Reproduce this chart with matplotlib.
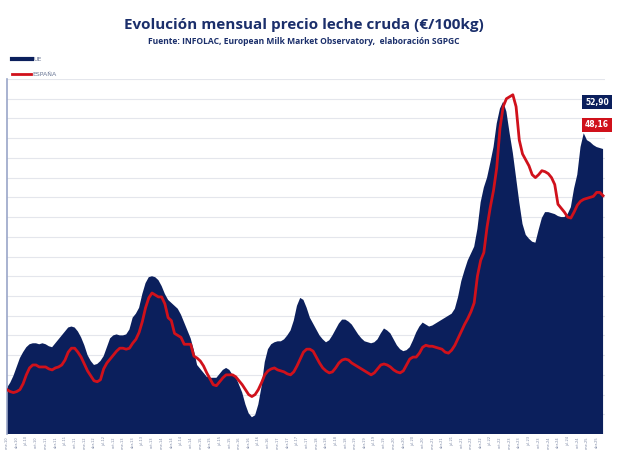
import numpy as np
import matplotlib
matplotlib.use("Agg")
import matplotlib.pyplot as plt

# monthly series, ene-2010 .. jun-2025 (EUR/100kg)
ue = [
    28.7, 29.2, 29.9, 30.8, 31.7, 32.3, 32.8, 33.1, 33.2, 33.2, 33.1, 33.2,
    33.1, 32.9, 32.8, 33.2, 33.6, 34.0, 34.4, 34.8, 34.9, 34.8, 34.4, 33.8,
    33.0, 32.0, 31.4, 31.0, 31.1, 31.4, 31.9, 32.8, 33.7, 34.0, 34.1, 34.0,
    34.0, 34.1, 34.6, 35.8, 36.2, 36.8, 38.2, 39.3, 39.9, 40.0, 39.9, 39.6,
    39.0, 38.2, 37.6, 37.3, 37.0, 36.7, 36.1, 35.3, 34.5, 33.7, 32.5, 31.0,
    30.6, 30.2, 29.8, 29.7, 29.7, 29.7, 30.1, 30.5, 30.7, 30.5, 30.0, 29.8,
    29.0, 28.2, 27.0, 26.1, 25.7, 25.9, 27.0, 28.8, 31.3, 32.6, 33.1, 33.3,
    33.4, 33.4, 33.6, 34.0, 34.5, 35.5, 37.0, 37.8, 37.6, 36.8, 35.8, 35.2,
    34.6, 34.0, 33.6, 33.3, 33.5, 34.0, 34.6, 35.2, 35.6, 35.6, 35.4, 35.1,
    34.6, 34.1, 33.7, 33.4, 33.3, 33.2, 33.3, 33.6, 34.2, 34.7, 34.5, 34.2,
    33.6, 33.0, 32.6, 32.4, 32.5, 32.8, 33.5, 34.3, 34.9, 35.3, 35.1, 34.9,
    35.0, 35.2, 35.4, 35.6, 35.8, 36.0, 36.2, 36.7, 37.9, 39.5, 40.6, 41.6,
    42.3, 43.0, 44.8, 47.5, 49.0, 50.0, 51.5, 53.1, 55.5, 57.0, 57.7, 56.7,
    54.5, 52.5, 50.0, 47.5, 45.3, 44.2, 43.8, 43.5, 43.4, 44.7, 45.9, 46.5,
    46.5, 46.4, 46.3, 46.1, 46.0, 46.0, 46.3, 47.0, 48.9, 50.3, 53.1, 54.5,
    53.8, 53.6, 53.3, 53.1, 53.0, 52.9,
]
espana = [
    28.5, 28.3, 28.2, 28.3, 28.5, 29.1, 30.0, 30.7, 31.0, 31.0, 30.8, 30.8,
    30.8, 30.6, 30.5, 30.7, 30.8, 31.0, 31.5, 32.3, 32.7, 32.7, 32.3, 31.8,
    31.1, 30.4, 29.9, 29.4, 29.3, 29.5, 30.6, 31.2, 31.6, 32.0, 32.4, 32.7,
    32.7, 32.6, 32.7, 33.2, 33.6, 34.3, 35.4, 36.8, 37.8, 38.3, 38.1, 37.9,
    37.9, 37.2, 35.8, 35.5, 34.2, 34.0, 33.8, 33.1, 33.1, 33.1, 31.9, 31.7,
    31.4, 30.9, 30.2, 29.6, 29.0, 28.9, 29.3, 29.7, 30.0, 30.0, 30.0, 29.8,
    29.4, 29.0, 28.5, 28.0, 27.8, 28.0, 28.5, 29.2, 30.0, 30.4, 30.6, 30.7,
    30.5, 30.4, 30.3, 30.1, 30.0, 30.3, 30.9, 31.6, 32.3, 32.6, 32.6, 32.4,
    31.8, 31.2, 30.7, 30.4, 30.2, 30.3, 30.7, 31.2, 31.5, 31.6, 31.5, 31.2,
    31.0, 30.8, 30.6, 30.4, 30.2, 30.0, 30.2, 30.6, 31.0, 31.1, 31.0, 30.8,
    30.5, 30.3, 30.2, 30.4, 31.0, 31.6, 31.8, 31.8, 32.2, 32.8, 33.0, 32.9,
    32.9, 32.8, 32.7, 32.6, 32.3, 32.2, 32.5, 33.0, 33.7, 34.4, 35.1, 35.7,
    36.4, 37.3, 40.0, 41.6, 42.4, 45.0, 47.0, 48.7, 51.0, 55.0, 57.2, 58.0,
    58.2, 58.4, 57.2, 53.8, 52.4, 51.8, 51.2, 50.3, 50.0, 50.3, 50.7, 50.6,
    50.4, 50.0, 49.3, 47.3, 46.9, 46.5, 46.0, 45.9, 46.5, 47.2, 47.6, 47.8,
    47.9, 48.0, 48.1, 48.5, 48.5, 48.16,
]
meses = ["ene", "feb", "mar", "abr", "may", "jun",
         "jul", "ago", "sep", "oct", "nov", "dic"]
first_year = 2010
last_ue = "52,90"
last_es = "48,16"

navy = "#0b1f5c"
red = "#d0111b"

n = len(ue)
x = np.arange(n)
labels = [f"{meses[i % 12]}-{(first_year + i // 12) % 100:02d}" for i in range(n)]

fig = plt.figure(figsize=(6.2, 4.5), dpi=100)
ax = fig.add_axes([7 / 620, 1 - 434 / 450, 598 / 620, 355 / 450])

ax.fill_between(x, 0, ue, color=navy, linewidth=0, zorder=2)
ax.plot(x, espana, color=red, linewidth=2, zorder=3)

ax.set_xlim(0, n - 1 + 0.6)
ax.set_ylim(24, 60)
ax.set_yticks(np.arange(24, 61, 2))
ax.yaxis.grid(True, color="#e4e6ec", linewidth=0.8, zorder=0)
ax.tick_params(axis="y", length=0, labelleft=False)

ticks = x[::3]
ax.set_xticks(ticks)
ax.set_xticklabels([labels[i] for i in ticks], rotation=90, fontsize=2.6,
                   color="#7f8aa6")
ax.tick_params(axis="x", length=0, pad=1.5)

for s in ["top", "right", "bottom"]:
    ax.spines[s].set_visible(False)
ax.spines["left"].set_color("#9aa6c8")
ax.spines["left"].set_linewidth(1.2)

# end-of-series value boxes
ax.annotate(last_ue, xy=(1.0, (ue[-1] - 24) / 36), xycoords="axes fraction",
            xytext=(597 / 620, 1 - 102 / 450), textcoords="figure fraction",
            ha="center", va="center", fontsize=5.5, fontweight="bold",
            color="white", bbox=dict(boxstyle="square,pad=0.35", fc=navy, ec="none"))
ax.annotate(last_es, xy=(1.0, (espana[-1] - 24) / 36), xycoords="axes fraction",
            xytext=(597 / 620, 1 - 125 / 450), textcoords="figure fraction",
            ha="center", va="center", fontsize=5.5, fontweight="bold",
            color="white", bbox=dict(boxstyle="square,pad=0.35", fc=red, ec="none"))

# legend drawn by hand at the top-left
fig.add_artist(plt.Line2D([12 / 620, 32 / 620], [1 - 59 / 450] * 2,
                          color=navy, linewidth=3))
fig.text(33 / 620, 1 - 59 / 450, "UE", fontsize=4.5, color="#6b7896", va="center")
fig.add_artist(plt.Line2D([12 / 620, 31 / 620], [1 - 74 / 450] * 2,
                          color=red, linewidth=2))
fig.text(32 / 620, 1 - 74 / 450, "ESPAÑA", fontsize=4.5, color="#6b7896", va="center")

fig.text(0.49, 1 - 25 / 450, "Evolución mensual precio leche cruda (€/100kg)",
         ha="center", va="center", fontsize=11, fontweight="bold",
         color="#1b2f6b", family="Open Sans")
fig.text(0.49, 1 - 42 / 450,
         "Fuente: INFOLAC, European Milk Market Observatory,  elaboración SGPGC",
         ha="center", va="center", fontsize=6.1, fontweight="bold",
         color="#1b2f6b", family="Open Sans")

fig.savefig("out.png", dpi=100)
